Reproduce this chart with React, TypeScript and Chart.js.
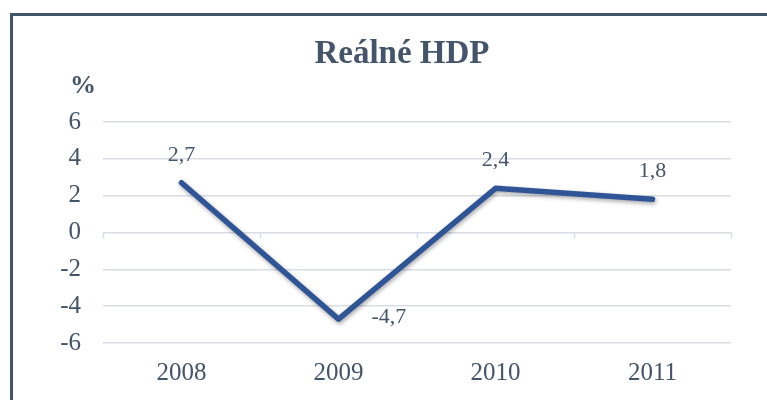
import React, { useEffect, useRef } from "react";
import { Chart, registerables } from "chart.js";

Chart.register(...registerables);

const categories = ["2008", "2009", "2010", "2011"];
const gdpValues = [2.7, -4.7, 2.4, 1.8];
const yTicks = [-6, -4, -2, 0, 2, 4, 6];
const titleText = "Reálné HDP";
const unitText = "%";

const TEXT = "#44546A";
const LINE = "#2F5597";
const GRID = "#D9DEE6";
const SERIF = "'Liberation Serif', 'Times New Roman', serif";

const framePlugin = {
  id: "framePlugin",
  beforeDraw(chart: any) {
    const { ctx } = chart;
    ctx.save();
    ctx.fillStyle = "#ffffff";
    ctx.fillRect(0, 0, chart.width, chart.height);
    ctx.strokeStyle = "#44546A";
    ctx.lineWidth = 3;
    ctx.strokeRect(11.5, 14.5, 800, 420);
    ctx.fillStyle = TEXT;
    ctx.font = `bold 33px ${SERIF}`;
    ctx.textAlign = "center";
    ctx.textBaseline = "alphabetic";
    ctx.fillText(titleText, 402, 63);
    ctx.font = `bold 26px ${SERIF}`;
    ctx.fillText(unitText, 83, 93);
    ctx.restore();
  },
  beforeDatasetsDraw(chart: any) {
    const { ctx, chartArea, scales } = chart;
    const y0 = scales.y.getPixelForValue(0);
    const n = categories.length;
    const w = (chartArea.right - chartArea.left) / n;
    ctx.save();
    ctx.strokeStyle = GRID;
    ctx.lineWidth = 1.5;
    for (let i = 0; i <= n; i++) {
      const x = Math.round(chartArea.left + i * w) + 0.5;
      ctx.beginPath();
      ctx.moveTo(x, y0);
      ctx.lineTo(x, y0 + 6);
      ctx.stroke();
    }
    ctx.restore();
  },
  beforeDatasetDraw(chart: any) {
    const { ctx } = chart;
    ctx.save();
    ctx.shadowColor = "rgba(0,0,0,0.35)";
    ctx.shadowBlur = 4;
    ctx.shadowOffsetX = 1;
    ctx.shadowOffsetY = 2;
  },
  afterDatasetDraw(chart: any) {
    chart.ctx.restore();
  },
  afterDatasetsDraw(chart: any) {
    const { ctx } = chart;
    const meta = chart.getDatasetMeta(0);
    ctx.save();
    ctx.fillStyle = TEXT;
    ctx.font = `22px ${SERIF}`;
    ctx.textBaseline = "alphabetic";
    meta.data.forEach((pt: any, i: number) => {
      const v = gdpValues[i];
      const txt = v.toFixed(1).replace(".", ",");
      if (v < 0) {
        ctx.textAlign = "left";
        ctx.fillText(txt, pt.x + 33, pt.y + 4);
      } else {
        ctx.textAlign = "center";
        ctx.fillText(txt, pt.x, pt.y - 22);
      }
    });
    ctx.restore();
  },
};

export default function App() {
  const ref = useRef<HTMLCanvasElement | null>(null);
  useEffect(() => {
    if (!ref.current) return;
    const chart = new Chart(ref.current, {
      type: "line",
      data: {
        labels: categories,
        datasets: [
          {
            data: gdpValues,
            borderColor: LINE,
            backgroundColor: LINE,
            borderWidth: 5.5,
            pointRadius: 0,
            tension: 0,
            borderCapStyle: "round",
            borderJoinStyle: "round",
          },
        ],
      },
      options: {
        responsive: false,
        animation: false,
        layout: { padding: { left: 0, top: 122, right: 36, bottom: 0 } },
        plugins: {
          legend: { display: false },
          title: { display: false },
          tooltip: { enabled: false },
        },
        scales: {
          x: {
            offset: true,
            grid: { display: false, drawTicks: false },
            border: { display: false },
            ticks: {
              color: TEXT,
              font: { family: SERIF, size: 25 },
              padding: 15,
            },
            afterFit: (s: any) => {
              s.height = 57;
            },
          },
          y: {
            min: yTicks[0],
            max: yTicks[yTicks.length - 1],
            afterBuildTicks: (s: any) => {
              s.ticks = yTicks.map((v) => ({ value: v }));
            },
            grid: { color: GRID, lineWidth: 1.5, drawTicks: false },
            border: { display: false },
            ticks: {
              color: TEXT,
              font: { family: SERIF, size: 25 },
              padding: 22,
              callback: (v: any) => String(v),
            },
            afterFit: (s: any) => {
              s.width = 103;
            },
          },
        },
      },
      plugins: [framePlugin],
    } as any);
    return () => chart.destroy();
  }, []);
  return (
    <div style={{ position: "fixed", left: 0, top: 0, width: 767, height: 400, background: "#fff" }}>
      <canvas ref={ref} width={767} height={400} style={{ display: "block" }} />
    </div>
  );
}
